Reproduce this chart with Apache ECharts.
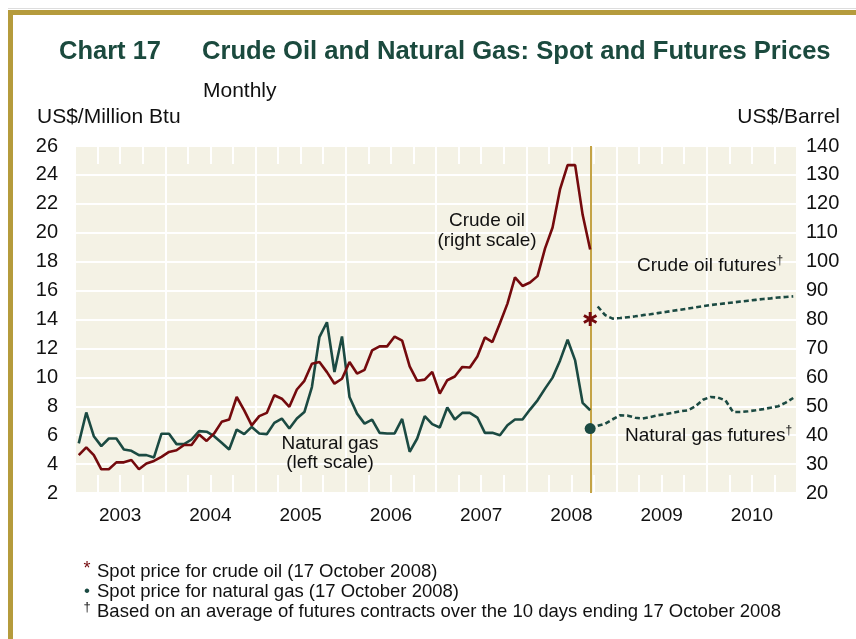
<!DOCTYPE html>
<html style="height: 100%">
<head>
    <meta charset="utf-8">
</head>
<body style="height: 100%; margin: 0; background: #fff">
    <div id="main" style="width: 856px; height: 639px"></div>
    <script src="https://cdn.jsdelivr.net/npm/echarts@6/dist/echarts.min.js"></script>
    <script type="text/javascript">

        // monthly spot prices, Jan 2003 .. Sep 2008
        var gasSpot = [5.43, 7.57, 5.93, 5.24, 5.77, 5.77, 5.01, 4.92, 4.62, 4.62, 4.46, 6.10,
            6.10, 5.38, 5.38, 5.70, 6.28, 6.24, 5.93, 5.47, 5.01, 6.39, 6.07, 6.57,
            6.12, 6.07, 6.85, 7.15, 6.46, 7.15, 7.60, 9.33, 12.78, 13.81, 10.37, 12.83,
            8.64, 7.49, 6.80, 7.08, 6.16, 6.12, 6.12, 7.12, 4.85, 5.77, 7.31, 6.76,
            6.53, 7.91, 7.08, 7.54, 7.54, 7.22, 6.16, 6.16, 6.00, 6.69, 7.08, 7.08,
            7.77, 8.41, 9.22, 9.98, 11.17, 12.60, 11.17, 8.23, 7.72];
        var oilSpot = [33.1, 35.8, 33.1, 28.2, 28.2, 30.6, 30.6, 31.4, 28.2, 30.2, 31.1, 32.5,
            34.2, 34.8, 36.6, 36.6, 40.2, 38.0, 40.6, 44.6, 45.4, 53.2, 48.6, 43.4,
            46.6, 47.7, 53.8, 52.6, 49.8, 55.8, 58.8, 64.7, 65.3, 61.8, 57.8, 59.5,
            65.3, 61.3, 62.6, 69.3, 70.7, 70.7, 74.1, 72.7, 63.8, 58.8, 59.2, 61.9,
            54.4, 59.0, 60.3, 63.6, 63.4, 67.2, 73.8, 72.2, 78.7, 85.5, 94.6, 91.6,
            92.8, 95.0, 104.6, 111.8, 125.1, 133.4, 133.4, 116.2, 104.2];

        // futures curves, Oct 2008 .. Dec 2010
        var oilFutures = [84.5, 81.5, 80.3, 80.5, 80.8, 81.1, 81.5, 81.8, 82.2, 82.6, 83.0, 83.4,
            83.8, 84.2, 84.6, 85.0, 85.3, 85.6, 85.9, 86.2, 86.5, 86.8, 87.1, 87.3,
            87.6, 87.8, 88.0];
        var gasFutures = [6.65, 6.80, 7.10, 7.38, 7.35, 7.20, 7.15, 7.25, 7.38, 7.45, 7.55, 7.65,
            7.72, 8.00, 8.45, 8.64, 8.60, 8.40, 7.60, 7.60, 7.65, 7.72, 7.80, 7.90,
            8.00, 8.25, 8.57];

        // spot on 17 October 2008
        var oilSpotOct17 = 80.2;
        var gasSpotOct17 = 6.46;

        var startYear = 2003;
        var futuresStart = 69; // month index of Oct 2008

        function monthX(i) {
            return startYear + (i + 0.5) / 12;
        }
        function toPairs(values, offset) {
            return values.map(function (v, i) {
                return [monthX(i + offset), v];
            });
        }

        var lastX = monthX(gasSpot.length - 1);

        var GAS = '#1b4a42';
        var OIL = '#740a0d';
        var FONT = 'Liberation Sans, Arial, sans-serif';

        var chart = echarts.init(document.getElementById('main'));

        var tickStyle = { color: '#fff', width: 2 };

        var option = {
            backgroundColor: '#fff',
            animation: false,
            textStyle: { fontFamily: FONT },
            grid: {
                left: 75, right: 59, top: 146, bottom: 146,
                show: true, backgroundColor: '#f4f2e5', borderWidth: 0
            },
            xAxis: [{
                type: 'value', min: 2003, max: 2011, interval: 1,
                position: 'bottom',
                axisLine: { show: false },
                axisLabel: { show: false },
                axisTick: { show: true, inside: true, length: 18, lineStyle: tickStyle },
                minorTick: { show: true, splitNumber: 4, length: 18, lineStyle: tickStyle },
                splitLine: { show: true, lineStyle: tickStyle }
            }, {
                type: 'value', min: 2003, max: 2011, interval: 1,
                position: 'top',
                axisLine: { show: false },
                axisLabel: { show: false },
                axisTick: { show: true, inside: true, length: 18, lineStyle: tickStyle },
                minorTick: { show: true, splitNumber: 4, length: 18, lineStyle: tickStyle },
                splitLine: { show: false }
            }, {
                type: 'value', min: 2003, max: 2011, interval: 0.5,
                position: 'bottom',
                axisLine: { show: false },
                axisTick: { show: false },
                splitLine: { show: false },
                axisLabel: {
                    margin: 13, fontSize: 19, color: '#111',
                    formatter: function (v) {
                        return (Math.abs(v % 1 - 0.5) < 0.01) ? String(Math.floor(v)) : '';
                    }
                }
            }],
            yAxis: [{
                type: 'value', min: 2, max: 26, interval: 2,
                position: 'left',
                axisLine: { show: false },
                axisTick: { show: false },
                axisLabel: { margin: 17, fontSize: 20, color: '#111' },
                splitLine: { show: true, lineStyle: tickStyle }
            }, {
                type: 'value', min: 20, max: 140, interval: 10,
                position: 'right',
                axisLine: { show: false },
                axisTick: { show: false },
                axisLabel: { margin: 9, fontSize: 20, color: '#111' },
                splitLine: { show: false }
            }],
            series: [{
                name: 'Natural gas',
                type: 'line',
                yAxisIndex: 0,
                data: toPairs(gasSpot, 0),
                symbol: 'none',
                lineStyle: { color: GAS, width: 2.6 },
                z: 3
            }, {
                name: 'Crude oil',
                type: 'line',
                yAxisIndex: 1,
                data: toPairs(oilSpot, 0),
                symbol: 'none',
                lineStyle: { color: OIL, width: 2.6 },
                z: 3,
                markLine: {
                    silent: true,
                    symbol: 'none',
                    label: { show: false },
                    lineStyle: { color: '#c4a345', width: 2, type: 'solid' },
                    data: [{ xAxis: lastX }],
                    z: 2
                }
            }, {
                name: 'Crude oil futures',
                type: 'line',
                yAxisIndex: 1,
                data: toPairs(oilFutures, futuresStart),
                symbol: 'none',
                lineStyle: { color: GAS, width: 2.6, type: [5, 3] },
                z: 3
            }, {
                name: 'Natural gas futures',
                type: 'line',
                yAxisIndex: 0,
                data: toPairs(gasFutures, futuresStart),
                symbol: 'none',
                lineStyle: { color: GAS, width: 2.6, type: [5, 3] },
                z: 3
            }, {
                name: 'Gas spot 17 Oct',
                type: 'scatter',
                yAxisIndex: 0,
                data: [[lastX, gasSpotOct17]],
                symbol: 'circle',
                symbolSize: 11,
                itemStyle: { color: GAS, opacity: 1 },
                z: 4
            }, {
                name: 'Oil spot 17 Oct',
                type: 'scatter',
                yAxisIndex: 1,
                data: [[lastX, oilSpotOct17]],
                symbol: 'path://M-2,-10L2,-10L2,10L-2,10ZM-9.66,-3.27L-7.66,-6.73L9.66,3.27L7.66,6.73ZM7.66,-6.73L9.66,-3.27L-7.66,6.73L-9.66,3.27Z',
                symbolSize: 14,
                itemStyle: { color: OIL, opacity: 1 },
                z: 4
            }],
            graphic: [
                { type: 'rect', shape: { x: 8, y: 8, width: 848, height: 1 }, style: { fill: '#ddd' } },
                { type: 'rect', shape: { x: 8, y: 10, width: 848, height: 5 }, style: { fill: '#b59b3c' } },
                { type: 'rect', shape: { x: 8, y: 10, width: 5, height: 629 }, style: { fill: '#b59b3c' } },
                { type: 'text', x: 59, y: 52, style: { text: 'Chart 17', font: 'bold 25.5px ' + FONT, fill: '#1b4a3e', verticalAlign: 'middle' } },
                { type: 'text', x: 202, y: 52, style: { text: 'Crude Oil and Natural Gas: Spot and Futures Prices', font: 'bold 25.6px ' + FONT, fill: '#1b4a3e', verticalAlign: 'middle' } },
                { type: 'text', x: 203, y: 91, style: { text: 'Monthly', font: '21px ' + FONT, fill: '#111', verticalAlign: 'middle' } },
                { type: 'text', x: 37, y: 117, style: { text: 'US$/Million Btu', font: '21px ' + FONT, fill: '#111', verticalAlign: 'middle' } },
                { type: 'text', x: 840, y: 117, style: { text: 'US$/Barrel', font: '21px ' + FONT, fill: '#111', align: 'right', verticalAlign: 'middle' } },
                { type: 'text', x: 487, y: 231, z: 10, style: { text: 'Crude oil\n(right scale)', font: '19px ' + FONT, lineHeight: 20, fill: '#111', align: 'center', verticalAlign: 'middle' } },
                { type: 'text', x: 330, y: 453, z: 10, style: { text: 'Natural gas\n(left scale)', font: '19px ' + FONT, lineHeight: 19, fill: '#111', align: 'center', verticalAlign: 'middle' } },
                {
                    type: 'text', x: 637, y: 266, z: 10, style: {
                        text: '{t|Crude oil futures}{d|†}', verticalAlign: 'middle', fill: '#111',
                        rich: { t: { fontSize: 19, fontFamily: FONT, lineHeight: 22 }, d: { fontSize: 12, fontFamily: FONT, verticalAlign: 'top', lineHeight: 22 } }
                    }
                },
                {
                    type: 'text', x: 625, y: 436, z: 10, style: {
                        text: '{t|Natural gas futures}{d|†}', verticalAlign: 'middle', fill: '#111',
                        rich: { t: { fontSize: 19, fontFamily: FONT, lineHeight: 22 }, d: { fontSize: 12, fontFamily: FONT, verticalAlign: 'top', lineHeight: 22 } }
                    }
                },
                { type: 'text', x: 87, y: 569, style: { text: '*', font: '18px ' + FONT, fill: OIL, align: 'center', verticalAlign: 'middle' } },
                { type: 'text', x: 97, y: 572, style: { text: 'Spot price for crude oil (17 October 2008)', font: '18.5px ' + FONT, fill: '#111', verticalAlign: 'middle' } },
                { type: 'text', x: 87, y: 591, style: { text: '•', font: '17px ' + FONT, fill: GAS, align: 'center', verticalAlign: 'middle' } },
                { type: 'text', x: 97, y: 592, style: { text: 'Spot price for natural gas (17 October 2008)', font: '18.5px ' + FONT, fill: '#111', verticalAlign: 'middle' } },
                { type: 'text', x: 87, y: 607, style: { text: '†', font: '13px ' + FONT, fill: '#111', align: 'center', verticalAlign: 'middle' } },
                { type: 'text', x: 97, y: 612, style: { text: 'Based on an average of futures contracts over the 10 days ending 17 October 2008', font: '18.5px ' + FONT, fill: '#111', verticalAlign: 'middle' } }
            ]
        };

        chart.setOption(option);

    </script>
</body>
</html>
